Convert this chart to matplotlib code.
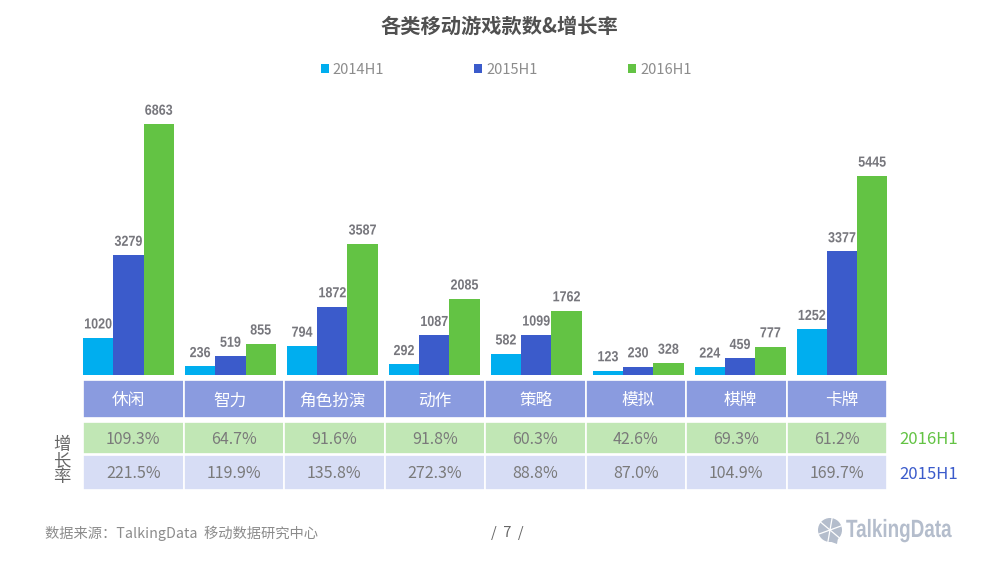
import matplotlib

matplotlib.use("Agg")
import matplotlib.pyplot as plt
import numpy as np
from matplotlib.patches import Ellipse, Polygon, Rectangle
from matplotlib.patheffects import AbstractPathEffect
from matplotlib.transforms import Affine2D

plt.rcParams["font.family"] = ["Noto Sans CJK SC", "DejaVu Sans"]

categories = ["休闲", "智力", "角色扮演", "动作", "策略", "模拟", "棋牌", "卡牌"]
series_names = ["2014H1", "2015H1", "2016H1"]
counts_2014 = [1020, 236, 794, 292, 582, 123, 224, 1252]
counts_2015 = [3279, 519, 1872, 1087, 1099, 230, 459, 3377]
counts_2016 = [6863, 855, 3587, 2085, 1762, 328, 777, 5445]
growth_2016 = ["109.3%", "64.7%", "91.6%", "91.8%", "60.3%", "42.6%", "69.3%", "61.2%"]
growth_2015 = ["221.5%", "119.9%", "135.8%", "272.3%", "88.8%", "87.0%", "104.9%", "169.7%"]

BAR_COLORS = ["#00AEEF", "#3B5BCB", "#63C344"]
HEADER_COLOR = "#8A9BDF"
GREEN_CELL = "#C1E7B5"
BLUE_CELL = "#D7DDF5"
GREY_TEXT = "#7A7A7A"
LOGO = "#B4BDCC"

W, H = 1000, 578


class Squeeze(AbstractPathEffect):
    # no condensed font is installed, so narrow the glyphs around the text centre
    def __init__(self, factor):
        super().__init__()
        self.factor = factor

    def draw_path(self, renderer, gc, tpath, affine, rgbFace=None):
        box = tpath.get_extents()
        mid = (box.x0 + box.x1) / 2
        squeeze = Affine2D().translate(-mid, 0).scale(self.factor, 1).translate(mid, 0)
        renderer.draw_path(gc, tpath, squeeze + affine, rgbFace)


def axes_box(left, top, right, bottom):
    # pixel box, measured from the top left of the picture
    return [left / W, 1 - bottom / H, (right - left) / W, (bottom - top) / H]


def fx(px):
    return px / W


def fy(py):
    return 1 - py / H


fig = plt.figure(figsize=(10, 5.78), dpi=100)

# table behind the bars
table_ax = fig.add_axes(axes_box(83, 379.5, 887, 489.5))
table_ax.set_xlim(0, len(categories))
table_ax.set_ylim(0, 110)
table_ax.axis("off")
rows = [(HEADER_COLOR, 72, 38, None), (GREEN_CELL, 35.5, 32.5, growth_2016), (BLUE_CELL, 0, 34.5, growth_2015)]
for color, y0, height, labels in rows:
    for i in range(len(categories)):
        table_ax.add_patch(Rectangle((i, y0), 1, height, facecolor=color, edgecolor="white", linewidth=1.2))
        if labels:
            table_ax.text(i + 0.5, y0 + height / 2 - 1.5, labels[i], ha="center", va="center",
                          fontsize=11.5, color=GREY_TEXT)

# bars, category labels come from the axis so they sit under each group
ax = fig.add_axes(axes_box(77.5, 100, 893, 375))
ax.patch.set_alpha(0)
x = np.arange(len(categories))
bar_width = 0.297
for offset, name, values, color in zip((-1, 0, 1), series_names, (counts_2014, counts_2015, counts_2016), BAR_COLORS):
    bars = ax.bar(x + offset * bar_width, values, bar_width, color=color, label=name)
    for xpos, value in zip(x + offset * bar_width, values):
        ax.annotate(str(value), (xpos, value), xytext=(0, 4.5), textcoords="offset points", ha="center", va="bottom",
                    fontsize=10.5, fontweight="bold", color="#77777D", family="Liberation Sans",
                    path_effects=[Squeeze(0.86)])
ax.set_xlim(-0.5, 7.5)
ax.set_ylim(0, 7519)
ax.set_yticks([])
ax.set_xticks(x, categories)
ax.tick_params(axis="x", length=0, pad=12.5, labelsize=12, labelcolor="white")
for spine in ax.spines.values():
    spine.set_visible(False)

ax.legend(loc="upper left", bbox_to_anchor=(0.298, 1.135), ncols=3, frameon=False, fontsize=10.5,
          labelcolor="#8C8C8C", handlelength=0.55, handleheight=0.55, handletextpad=0.27,
          columnspacing=6.2, borderpad=0, borderaxespad=0)

fig.text(fx(499), fy(26), "各类移动游戏款数&增长率", ha="center", va="center", fontsize=14.6,
         fontweight="bold", color="#505050")
fig.text(fx(62), fy(461), "增\n长\n率", ha="center", va="center", fontsize=12.5, color="#666666", linespacing=0.85)
fig.text(fx(899), fy(439.5), "2016H1", ha="left", va="center", fontsize=12, color="#63C344")
fig.text(fx(899), fy(474.5), "2015H1", ha="left", va="center", fontsize=12, color="#3B5BCB")
fig.text(fx(45), fy(533), "数据来源：TalkingData  移动数据研究中心", ha="left", va="center", fontsize=10.3, color="#8C8C8C")
fig.text(fx(507.5), fy(533), "/  7  /", ha="center", va="center", fontsize=10.5, color="#666666")

# logo: speech bubble plus wordmark
fig.add_artist(Ellipse((fx(830), fy(530)), 24 / W, 24 / H, transform=fig.transFigure, facecolor=LOGO, edgecolor="none"))
fig.add_artist(Polygon([(fx(826), fy(540)), (fx(838), fy(538)), (fx(837), fy(544))], transform=fig.transFigure,
                       facecolor=LOGO, edgecolor="none"))
for angle in (20, 80, 140, 200, 260, 320):
    dx, dy = 12 * np.cos(np.radians(angle)), 12 * np.sin(np.radians(angle))
    fig.add_artist(plt.Line2D([fx(830), fx(830 + dx)], [fy(530), fy(530 - dy)], color="white", linewidth=0.9))
fig.text(fx(898.5), fy(530), "TalkingData", ha="center", va="center", fontsize=18, fontweight="bold",
         color=LOGO, family="Liberation Sans", path_effects=[Squeeze(0.755)])

fig.savefig("out.png", dpi=100)
